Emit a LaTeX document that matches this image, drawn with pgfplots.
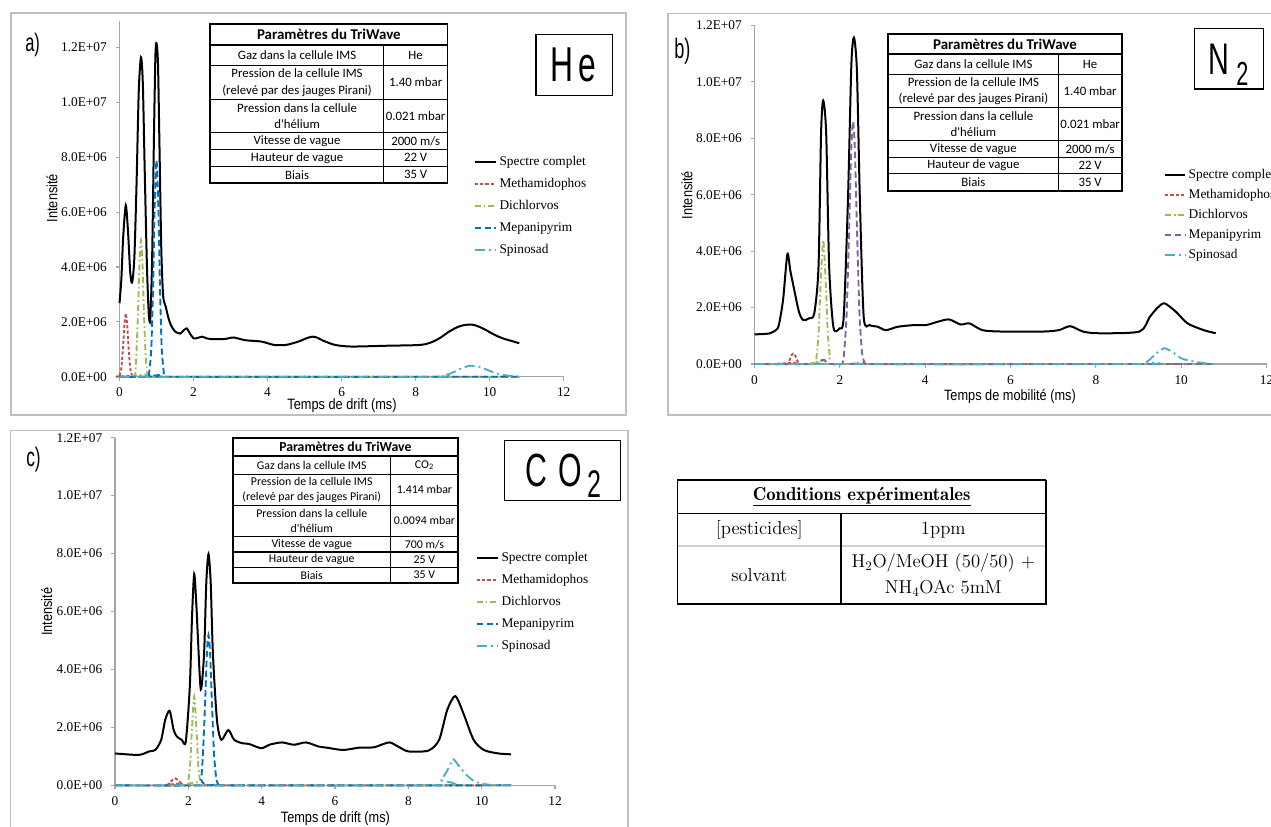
\documentclass[border=0pt]{standalone}
\usepackage{fontspec}
\setmainfont{Liberation Serif}
\newfontfamily\narrowfont{Liberation Sans}[FakeStretch=0.85]
\newfontfamily\boxfont{Liberation Sans}[FakeStretch=0.65]
\newfontfamily\calfont{Carlito}
\usepackage{pgfplots}
\usepackage{pgfplotstable}
\pgfplotsset{compat=1.18}
\definecolor{cRed}{HTML}{C0504D}
\definecolor{cGreen}{HTML}{9BBB59}
\definecolor{cBlue}{HTML}{0070C0}
\definecolor{cPurple}{HTML}{8064A2}
\definecolor{cCyan}{HTML}{4BACC6}
\definecolor{axisgray}{HTML}{A6A6A6}
\definecolor{framegray}{HTML}{BFBFBF}

% ---------------- data (intensity in units of 1E+06) ----------------
\pgfplotstableread{
x y
0.00 2.68
0.05 3.55
0.10 5.10
0.17 6.25
0.23 5.30
0.29 3.80
0.34 3.43
0.40 4.30
0.46 7.00
0.52 10.40
0.58 11.65
0.63 10.70
0.68 7.60
0.74 4.10
0.79 2.30
0.83 2.09
0.88 4.20
0.93 8.70
0.97 11.70
1.00 12.16
1.04 11.40
1.08 8.40
1.13 4.60
1.18 2.95
1.25 2.55
1.32 2.15
1.40 1.85
1.50 1.65
1.64 1.57
1.74 1.70
1.82 1.76
1.90 1.58
2.00 1.40
2.10 1.41
2.23 1.46
2.35 1.40
2.50 1.37
2.84 1.37
3.08 1.43
3.40 1.33
3.84 1.28
4.17 1.16
4.50 1.16
4.83 1.28
5.05 1.40
5.21 1.46
5.35 1.42
5.49 1.32
5.82 1.16
6.26 1.10
7.25 1.13
8.14 1.16
8.47 1.28
8.70 1.45
8.91 1.65
9.15 1.82
9.35 1.89
9.57 1.89
9.75 1.80
9.90 1.70
10.10 1.55
10.35 1.40
10.60 1.30
10.80 1.22
}\aSpec
\pgfplotstableread{
x y
0.00 0.04
0.05 0.31
0.10 1.17
0.13 1.85
0.17 2.31
0.21 1.85
0.24 1.17
0.29 0.31
0.34 0.04
0.40 0.00
10.80 0.00
}\aMeth
\pgfplotstableread{
x y
0.00 0.00
0.40 0.01
0.45 0.67
0.50 2.34
0.54 4.13
0.58 4.98
0.62 4.13
0.66 2.34
0.71 0.67
0.76 0.11
0.80 0.00
10.80 0.00
}\aDich
\pgfplotstableread{
x y
0.00 0.00
0.74 0.00
0.80 0.13
0.86 1.07
0.91 3.46
0.95 6.12
1.00 7.90
1.05 6.12
1.09 3.46
1.14 1.07
1.20 0.13
1.25 0.00
10.80 0.00
}\aMepa
\pgfplotstableread{
x y
0.00 0.00
8.40 0.00
8.80 0.06
9.00 0.15
9.20 0.28
9.40 0.38
9.50 0.40
9.70 0.37
9.90 0.27
10.10 0.16
10.30 0.08
10.60 0.02
10.80 0.00
}\aSpin

\pgfplotstableread{
x y
0.00 1.05
0.34 1.08
0.50 1.20
0.57 1.38
0.67 2.28
0.77 3.89
0.84 3.30
0.90 2.86
1.04 1.86
1.14 1.56
1.28 1.62
1.40 1.79
1.50 3.44
1.56 8.17
1.61 9.34
1.68 8.17
1.75 3.44
1.85 1.30
1.99 1.26
2.09 1.66
2.19 5.80
2.27 10.60
2.33 11.57
2.40 10.40
2.47 5.80
2.56 1.66
2.70 1.38
2.89 1.32
3.08 1.20
3.36 1.32
3.74 1.38
4.02 1.38
4.30 1.50
4.56 1.58
4.83 1.40
5.04 1.44
5.34 1.20
5.81 1.15
6.76 1.15
7.13 1.20
7.40 1.34
7.70 1.15
8.07 1.09
9.02 1.15
9.26 1.66
9.45 2.00
9.61 2.15
9.87 1.86
10.15 1.44
10.53 1.20
10.81 1.09
}\bSpec
\pgfplotstableread{
x y
0.00 0.00
0.75 0.00
0.79 0.05
0.83 0.16
0.87 0.31
0.91 0.38
0.95 0.31
0.99 0.16
1.03 0.05
1.07 0.00
10.80 0.00
}\bMeth
\pgfplotstableread{
x y
0.00 0.00
1.40 0.00
1.45 0.21
1.50 1.05
1.55 2.87
1.61 4.40
1.67 2.87
1.72 1.05
1.77 0.21
1.82 0.00
10.80 0.00
}\bDich
\pgfplotstableread{
x y
0.00 0.00
1.45 0.00
1.55 0.12
1.62 0.15
1.70 0.05
1.80 0.00
2.05 0.00
2.10 0.41
2.16 1.80
2.22 4.90
2.27 7.70
2.31 8.60
2.35 7.70
2.40 4.90
2.46 1.80
2.52 0.41
2.58 0.05
2.65 0.00
10.80 0.00
}\bMepa
\pgfplotstableread{
x y
0.00 0.00
9.00 0.00
9.20 0.08
9.40 0.35
9.60 0.56
9.80 0.42
10.00 0.20
10.20 0.12
10.40 0.06
10.60 0.02
10.80 0.00
}\bSpin

\pgfplotstableread{
x y
0.00 1.10
0.65 1.05
0.93 1.17
1.10 1.22
1.26 1.57
1.37 2.26
1.49 2.57
1.60 1.91
1.69 1.68
1.82 1.57
1.93 1.51
2.04 3.40
2.10 5.80
2.16 7.29
2.22 6.20
2.26 5.13
2.34 3.31
2.43 4.56
2.49 7.00
2.55 7.98
2.61 7.00
2.67 4.56
2.78 2.26
2.90 1.57
3.09 1.91
3.25 1.57
3.48 1.45
3.65 1.43
3.99 1.28
4.21 1.40
4.55 1.48
4.88 1.40
5.21 1.48
5.55 1.34
5.77 1.30
6.22 1.22
6.66 1.30
7.05 1.31
7.33 1.43
7.50 1.48
7.72 1.34
8.00 1.17
8.55 1.20
8.84 1.57
9.06 2.60
9.28 3.08
9.50 2.49
9.78 1.57
10.06 1.22
10.45 1.10
10.80 1.07
}\cSpec
\pgfplotstableread{
x y
0.00 0.00
1.40 0.00
1.47 0.06
1.54 0.15
1.64 0.24
1.74 0.15
1.81 0.06
1.90 0.00
10.80 0.00
}\cMeth
\pgfplotstableread{
x y
0.00 0.00
1.95 0.00
2.00 0.15
2.05 0.72
2.10 1.98
2.16 3.06
2.22 1.98
2.27 0.72
2.32 0.15
2.37 0.00
10.80 0.00
}\cDich
\pgfplotstableread{
x y
0.00 0.00
2.30 0.00
2.35 0.20
2.40 1.10
2.46 2.96
2.51 4.65
2.55 5.19
2.59 4.65
2.64 2.96
2.70 1.10
2.76 0.25
2.82 0.03
2.90 0.00
10.80 0.00
}\cMepa
\pgfplotstableread{
x y
0.00 0.00
8.80 0.00
8.90 0.18
9.00 0.38
9.10 0.60
9.22 0.90
9.35 0.72
9.50 0.48
9.65 0.28
9.80 0.14
10.00 0.06
10.20 0.02
10.40 0.00
10.80 0.00
}\cSpin

\pgfplotsset{
 sSpec/.style={black, line width=1.5pt, smooth, tension=0.45},
 sMeth/.style={cRed, line width=1.4pt, dash pattern=on 2.4pt off 1.6pt, smooth, tension=0.4},
 sDich/.style={cGreen, line width=1.4pt, dash pattern=on 4.5pt off 2.2pt on 1.2pt off 2.2pt, smooth, tension=0.4},
 sMepa/.style={cBlue, line width=1.4pt, dash pattern=on 4.8pt off 2.6pt, smooth, tension=0.4},
 sSpin/.style={cCyan, line width=1.4pt, dash pattern=on 7.5pt off 3pt on 1.4pt off 3pt, smooth, tension=0.4},
 panelax/.style={
  scale only axis, xmin=0, xmax=12, ymin=0, clip=false,
  axis lines=left, axis line style={-, draw=axisgray, line width=0.8pt},
  tick style={draw=axisgray, line width=0.8pt}, tick align=outside, major tick length=3pt,
  xtick={0,2,4,6,8,10,12}, xticklabels={0,2,4,6,8,10,12},
  ytick={0,2,4,6,8,10,12},
  yticklabels={0.0E+00,2.0E+06,4.0E+06,6.0E+06,8.0E+06,1.0E+07,1.2E+07},
  ticklabel style={font=\fontsize{10}{12}\selectfont},
  yticklabel style={xshift=-3pt},
  xticklabel style={yshift=-2pt},
  label style={font=\narrowfont\fontsize{11.25}{13}\selectfont},
  ylabel={Intensité},
  legend cell align=left,
  legend image code/.code={\draw[##1] (0pt,0pt) -- (15.9pt,0pt);},
  legend style={draw=none, fill=none, inner sep=0pt, outer sep=0pt, column sep=1pt,
    font=\fontsize{10}{12}\selectfont,
    nodes={inner sep=1pt, text height=7pt, text depth=2pt}},
  legend entries={Spectre complet, Methamidophos, Dichlorvos, Mepanipyrim, Spinosad},
 },
}

\begin{document}
\begin{tikzpicture}
\useasboundingbox (0,0) rectangle (953.25pt,-620.25pt);
% panel frames
\begin{scope}[x=0.75pt,y=-0.75pt]
\draw[framegray, line width=1pt] (11,13) rectangle (626,415);
\draw[framegray, line width=1pt] (668,13.5) rectangle (1300,415);
\draw[framegray, line width=1pt] (10.5,430.7) rectangle (628,870);
\end{scope}

% ---------------- panel a ----------------
\begin{axis}[panelax,
  at={(89.625pt,-282.525pt)}, anchor=south west,
  width=333.15pt, height=266.775pt, ymax=12.97,
  xlabel={Temps de drift (ms)},
  xlabel style={at={(axis description cs:0.501,-0.0824)}, anchor=center},
  ylabel style={at={(axis description cs:-0.152,0.502)}, anchor=center},
  legend style={at={(axis description cs:0.7974,0.6233)}, anchor=north west, row sep=5.5pt},
]
\addplot[sSpec] table {\aSpec};
\addplot[sMeth] table {\aMeth};
\addplot[sDich] table {\aDich};
\addplot[sMepa] table {\aMepa};
\addplot[sSpin] table {\aSpin};
\end{axis}

% ---------------- panel b ----------------
\begin{axis}[panelax,
  at={(565.875pt,-273pt)}, anchor=south west,
  width=384pt, height=253.875pt, ymax=12,
  xlabel={Temps de mobilité (ms)},
  xlabel style={at={(axis description cs:0.499,-0.0975)}, anchor=center},
  ylabel style={at={(axis description cs:-0.132,0.499)}, anchor=center},
  legend image code/.code={\draw[#1] (0pt,0pt) -- (15pt,0pt);},
  legend style={at={(axis description cs:0.7998,0.5808)}, anchor=north west, row sep=4.1pt},
]
\addplot[sSpec] table {\bSpec};
\addplot[sMeth] table {\bMeth};
\addplot[sDich] table {\bDich};
\addplot[sMepa, cPurple] table {\bMepa};
\addplot[sSpin] table {\bSpin};
\end{axis}

% ---------------- panel c ----------------
\begin{axis}[panelax,
  at={(86.25pt,-588.975pt)}, anchor=south west,
  width=330pt, height=260.7pt, ymax=12,
  xlabel={Temps de drift (ms)},
  xlabel style={at={(axis description cs:0.501,-0.095)}, anchor=center},
  ylabel style={at={(axis description cs:-0.155,0.4994)}, anchor=center},
  legend style={at={(axis description cs:0.8198,0.6758)}, anchor=north west, row sep=5.6pt},
]
\addplot[sSpec] table {\cSpec};
\addplot[sMeth] table {\cMeth};
\addplot[sDich] table {\cDich};
\addplot[sMepa] table {\cMepa};
\addplot[sSpin] table {\cSpin};
\end{axis}

\begin{scope}[x=0.75pt,y=-0.75pt]
% ---- table a ----
\begin{scope}[font=\calfont\fontsize{9.6}{12.5}\selectfont]
\fill[white] (210.3,24.3) rectangle (447.5,183);
\foreach \yy in {65.7,99.3,132.7,149.3,166.3} \draw[line width=0.8pt] (210.3,\yy) -- (447.5,\yy);
\draw[line width=0.8pt] (383.8,45) -- (383.8,183);
\draw[line width=1.4pt] (210.3,45) -- (447.5,45);
\draw[line width=1.4pt] (210.3,24.3) rectangle (447.5,183);
\node[font=\calfont\bfseries\fontsize{11.2}{13}\selectfont] at (328.9,34.65) {Paramètres du TriWave};
\node at (297.05,55.35) {Gaz dans la cellule IMS};
\node[align=center] at (297.05,82.5) {Pression de la cellule IMS\\(relevé par des jauges Pirani)};
\node[align=center] at (297.05,116) {Pression dans la cellule\\d'hélium};
\node at (297.05,141) {Vitesse de vague};
\node at (297.05,157.8) {Hauteur de vague};
\node at (297.05,174.65) {Biais};
\node at (415.65,55.35) {He};
\node at (415.65,82.5) {1.40 mbar};
\node at (415.65,116) {0.021 mbar};
\node at (415.65,141) {2000 m/s};
\node at (415.65,157.8) {22 V};
\node at (415.65,174.65) {35 V};
\end{scope}
% ---- table b ----
\begin{scope}[font=\calfont\fontsize{9.6}{12.5}\selectfont]
\fill[white] (888.3,34.3) rectangle (1121.7,190.7);
\foreach \yy in {74.7,107.3,140.7,157.3,173.7} \draw[line width=0.8pt] (888.3,\yy) -- (1121.7,\yy);
\draw[line width=0.8pt] (1058.5,54.3) -- (1058.5,190.7);
\draw[line width=1.4pt] (888.3,54.3) -- (1121.7,54.3);
\draw[line width=1.4pt] (888.3,34.3) rectangle (1121.7,190.7);
\node[font=\calfont\bfseries\fontsize{11.2}{13}\selectfont] at (1005,44.3) {Paramètres du TriWave};
\node at (973.4,64.5) {Gaz dans la cellule IMS};
\node[align=center] at (973.4,91) {Pression de la cellule IMS\\(relevé par des jauges Pirani)};
\node[align=center] at (973.4,124) {Pression dans la cellule\\d'hélium};
\node at (973.4,149) {Vitesse de vague};
\node at (973.4,165.5) {Hauteur de vague};
\node at (973.4,182.2) {Biais};
\node at (1090.1,64.5) {He};
\node at (1090.1,91) {1.40 mbar};
\node at (1090.1,124) {0.021 mbar};
\node at (1090.1,149) {2000 m/s};
\node at (1090.1,165.5) {22 V};
\node at (1090.1,182.2) {35 V};
\end{scope}
% ---- table c ----
\begin{scope}[font=\calfont\fontsize{8.9}{11.25}\selectfont]
\fill[white] (232.7,438) rectangle (458.1,583);
\foreach \yy in {474.3,505.3,536.3,552,567.3} \draw[line width=0.8pt] (232.7,\yy) -- (458.1,\yy);
\draw[line width=0.8pt] (390.8,456) -- (390.8,583);
\draw[line width=1.4pt] (232.7,456) -- (458.1,456);
\draw[line width=1.4pt] (232.7,438) rectangle (458.1,583);
\node[font=\calfont\bfseries\fontsize{10.3}{12}\selectfont] at (345.4,447) {Paramètres du TriWave};
\node at (311.75,465.15) {Gaz dans la cellule IMS};
\node[align=center] at (311.75,489.8) {Pression de la cellule IMS\\(relevé par des jauges Pirani)};
\node[align=center] at (311.75,520.8) {Pression dans la cellule\\d'hélium};
\node at (311.75,544.15) {Vitesse de vague};
\node at (311.75,559.65) {Hauteur de vague};
\node at (311.75,575.15) {Biais};
\node at (424.45,465.15) {CO\textsubscript{2}};
\node at (424.45,489.8) {1.414 mbar};
\node at (424.45,520.8) {0.0094 mbar};
\node at (424.45,544.15) {700 m/s};
\node at (424.45,559.65) {25 V};
\node at (424.45,575.15) {35 V};
\end{scope}
% ---- gas boxes ----
\draw[line width=0.9pt] (536,34.3) rectangle (612.5,95.7);
\node[anchor=base west, inner sep=0pt, font=\boxfont\fontsize{36.7}{40}\selectfont] at (550,81.7) {H\kern4pt e};
\draw[line width=0.9pt] (1194.5,28.3) rectangle (1263.7,89);
\node[anchor=base west, inner sep=0pt, font=\boxfont\fontsize{33.2}{36}\selectfont] at (1208,75) {N};
\node[anchor=base west, inner sep=0pt, font=\boxfont\fontsize{25}{28}\selectfont] at (1236,86) {2};
\draw[line width=0.9pt] (504.7,440.7) rectangle (620.7,500.7);
\node[anchor=base west, inner sep=0pt, font=\boxfont\fontsize{34.9}{38}\selectfont] at (525,486.7) {C};
\node[anchor=base west, inner sep=0pt, font=\boxfont\fontsize{34.9}{38}\selectfont] at (558,486.7) {O};
\node[anchor=base west, inner sep=0pt, font=\boxfont\fontsize{28.9}{32}\selectfont] at (587,497.3) {2};
% ---- panel letters ----
\node[anchor=base west, inner sep=0pt, font=\boxfont\fontsize{19}{22}\selectfont] at (25,51.7) {a)};
\node[anchor=base west, inner sep=0pt, font=\boxfont\fontsize{21}{24}\selectfont] at (674,58.3) {b)};
\node[anchor=base west, inner sep=0pt, font=\boxfont\fontsize{20}{23}\selectfont] at (26,466.7) {c)};
% ---- conditions table ----
\begin{scope}[font=\fontfamily{lmr}\fontsize{14}{17}\selectfont]
\draw[gray!35, line width=0.8pt] (677.7,546) -- (1045.7,546);
\draw[line width=0.9pt] (677.7,513.3) -- (1045.7,513.3);
\draw[line width=0.9pt] (841,513.3) -- (841,604);
\draw[line width=0.9pt] (677.7,480) rectangle (1045.7,604);
\draw[line width=1.4pt] (1045.7,480) -- (1045.7,604) -- (677.7,604);
\node at (861.7,496.7) {\underline{\bfseries Conditions expérimentales}};
\node at (759.3,529.7) {[pesticides]};
\node at (943.3,529.7) {1ppm};
\node at (759.3,575) {solvant};
\node at (943.3,562.7) {H\textsubscript{2}O/MeOH (50/50) +};
\node at (943.3,588.3) {NH\textsubscript{4}OAc 5mM};
\end{scope}
\end{scope}
\end{tikzpicture}
\end{document}
